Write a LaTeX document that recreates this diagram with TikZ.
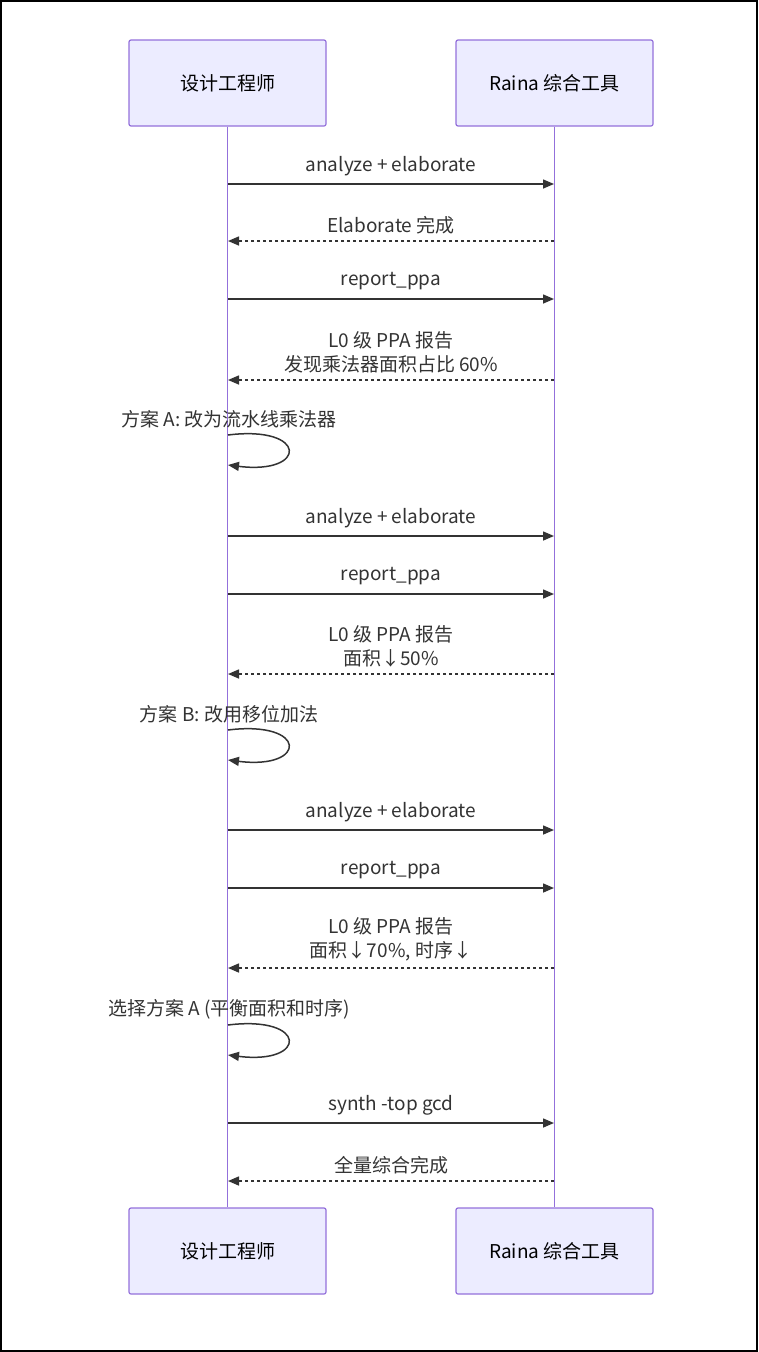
\documentclass[tikz,border=0pt]{standalone}
\usepackage{fontspec}
\setmainfont{Noto Sans CJK SC}
\usetikzlibrary{arrows.meta}
\definecolor{boxfill}{HTML}{ECECFF}
\definecolor{boxline}{HTML}{9370DB}
\definecolor{ink}{HTML}{333333}
\begin{document}
\begin{tikzpicture}[x=1pt,y=-1pt,
 actor/.style={draw=boxline,fill=boxfill,line width=1.2pt,rounded corners=2pt,minimum width=197pt,minimum height=86pt,font=\fontsize{19}{23}\selectfont,text=black},
 msg/.style={draw=ink,line width=1.5pt,-{Triangle[length=11pt,width=9pt]}},
 ret/.style={msg,dash pattern=on 3pt off 3pt},
 lbl/.style={font=\fontsize{19}{24}\selectfont,text=ink,align=center,inner sep=0pt},
 life/.style={draw=boxline,line width=1.8pt}]
\useasboundingbox (0,0) rectangle (758,1352);
\draw[black,line width=1.5pt] (1,1) rectangle (757,1351);
\node[actor] (a1) at (227.5,83) {设计工程师};
\node[actor] (b1) at (554.5,83) {Raina 综合工具};
\node[actor] (a2) at (227.5,1251) {设计工程师};
\node[actor] (b2) at (554.5,1251) {Raina 综合工具};
\draw[life] (a1.south) -- (a2.north);
\draw[life] (b1.south) -- (b2.north);
\def\ax{228}\def\bx{554}
\foreach \y/\t [count=\i] in {184/analyze + elaborate,299/report\_ppa,536/analyze + elaborate,594/report\_ppa,830/analyze + elaborate,888/report\_ppa,1123/synth -top gcd}{
 \coordinate (s\i) at (\ax,\y); \coordinate (e\i) at (\bx,\y);
 \draw[msg] (s\i) -- (e\i);
 \node[lbl] (sl\i) at (391,\y-18) {\t};
}
\foreach \y/\t [count=\i] in {241/{Elaborate 完成},380/{L0 级 PPA 报告\\发现乘法器面积占比 60\%},674/{L0 级 PPA 报告\\面积↓50\%},968/{L0 级 PPA 报告\\面积↓70\%, 时序↓},1181/{全量综合完成}}{
 \coordinate (rs\i) at (\bx,\y); \coordinate (re\i) at (\ax,\y);
 \draw[ret] (rs\i) -- (re\i);
 \node[lbl,anchor=south] (rl\i) at (391,\y-7) {\t};
}
\foreach \y/\t [count=\i] in {435/{方案 A: 改为流水线乘法器},730/{方案 B: 改用移位加法},1025/{选择方案 A (平衡面积和时序)}}{
 \coordinate (ls\i) at (\ax,\y); \coordinate (le\i) at (\ax,\y+30);
 \draw[msg] (ls\i) .. controls (\ax+80,\y-10) and (\ax+80,\y+40) .. (le\i);
 \node[lbl] (ll\i) at (\ax+1,\y-16) {\t};
}
\end{tikzpicture}
\end{document}
